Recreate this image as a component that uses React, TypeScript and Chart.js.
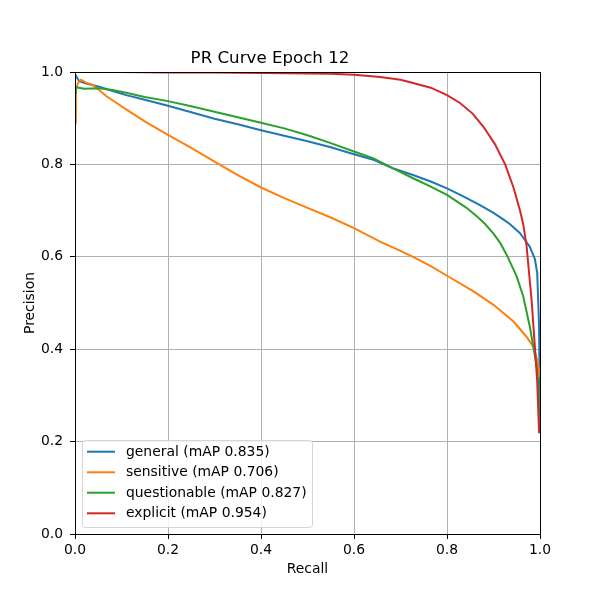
import React, { useEffect, useRef } from "react";
import { Chart, registerables } from "chart.js";

Chart.register(...registerables);

const chartTitle = "PR Curve Epoch 12";
const xAxisTitle = "Recall";
const yAxisTitle = "Precision";
const tickValues = [0, 0.2, 0.4, 0.6, 0.8, 1.0];

const seriesLabels = [
  "general (mAP 0.835)",
  "sensitive (mAP 0.706)",
  "questionable (mAP 0.827)",
  "explicit (mAP 0.954)",
];
const seriesColors = ["#1f77b4", "#ff7f0e", "#2ca02c", "#d62728"];

const generalRecall = [0, 0.003, 0.009, 0.024, 0.052, 0.081, 0.11, 0.15, 0.2, 0.25, 0.3, 0.35, 0.4, 0.45, 0.5, 0.55, 0.6, 0.642, 0.685, 0.727, 0.765, 0.8, 0.835, 0.871, 0.9, 0.921, 0.935, 0.957, 0.978, 0.989, 0.994, 0.998, 1.0];
const generalPrecision = [0.995, 0.99, 0.98, 0.975, 0.968, 0.959, 0.95, 0.94, 0.927, 0.913, 0.899, 0.887, 0.874, 0.862, 0.85, 0.837, 0.822, 0.81, 0.791, 0.777, 0.763, 0.748, 0.731, 0.712, 0.695, 0.681, 0.671, 0.651, 0.622, 0.595, 0.565, 0.45, 0.22];

const sensitiveRecall = [0, 0.002, 0.006, 0.013, 0.024, 0.038, 0.052, 0.067, 0.088, 0.11, 0.15, 0.2, 0.25, 0.3, 0.35, 0.4, 0.45, 0.5, 0.55, 0.6, 0.656, 0.7, 0.727, 0.765, 0.8, 0.857, 0.9, 0.943, 0.971, 0.986, 0.993, 0.998, 1.0];
const sensitivePrecision = [0.89, 0.96, 0.975, 0.983, 0.977, 0.972, 0.961, 0.948, 0.934, 0.919, 0.893, 0.864, 0.836, 0.806, 0.777, 0.75, 0.727, 0.706, 0.685, 0.662, 0.633, 0.613, 0.6, 0.58, 0.559, 0.525, 0.496, 0.46, 0.427, 0.405, 0.38, 0.355, 0.34];

const questionableRecall = [0, 0.002, 0.02, 0.052, 0.081, 0.11, 0.15, 0.2, 0.25, 0.3, 0.35, 0.4, 0.45, 0.5, 0.55, 0.6, 0.642, 0.685, 0.727, 0.765, 0.8, 0.842, 0.864, 0.882, 0.9, 0.915, 0.929, 0.95, 0.964, 0.978, 0.987, 0.994, 0.998, 1.0];
const questionablePrecision = [0.955, 0.967, 0.964, 0.965, 0.961, 0.955, 0.946, 0.937, 0.926, 0.914, 0.902, 0.89, 0.878, 0.863, 0.846, 0.828, 0.813, 0.791, 0.77, 0.752, 0.734, 0.706, 0.688, 0.671, 0.65, 0.629, 0.603, 0.557, 0.514, 0.449, 0.398, 0.355, 0.3, 0.25];

const explicitRecall = [0, 0.1, 0.2, 0.3, 0.4, 0.5, 0.55, 0.6, 0.656, 0.7, 0.727, 0.765, 0.8, 0.828, 0.855, 0.878, 0.903, 0.925, 0.943, 0.957, 0.964, 0.971, 0.982, 0.989, 0.994, 0.998, 1.0];
const explicitPrecision = [1.0, 1.0, 0.999, 0.999, 0.998, 0.997, 0.996, 0.994, 0.989, 0.983, 0.976, 0.966, 0.95, 0.933, 0.91, 0.882, 0.844, 0.8, 0.75, 0.7, 0.67, 0.625, 0.505, 0.405, 0.33, 0.22, 0.22];

const recallSets = [generalRecall, sensitiveRecall, questionableRecall, explicitRecall];
const precisionSets = [generalPrecision, sensitivePrecision, questionablePrecision, explicitPrecision];

const FONT = "'DejaVu Sans', sans-serif";
const TICK_PX = 13.9;

const framePlugin = {
  id: "frameAndLegend",
  afterDatasetsDraw(chart: any) {
    const { ctx, chartArea } = chart;
    const { left, top, right, bottom } = chartArea;
    ctx.save();
    ctx.strokeStyle = "#000";
    ctx.lineWidth = 1;
    const l = Math.floor(left) + 0.5, t = Math.floor(top) + 0.5;
    const r0 = Math.floor(right) + 0.5, b0 = Math.floor(bottom) + 0.5;
    ctx.strokeRect(l, t, r0 - l, b0 - t);

    // legend box (lower left, inside axes)
    const bx = 82.5, by = 440.5, bw = 230, bh = 87, r = 3;
    ctx.beginPath();
    ctx.moveTo(bx + r, by);
    ctx.lineTo(bx + bw - r, by);
    ctx.arcTo(bx + bw, by, bx + bw, by + r, r);
    ctx.lineTo(bx + bw, by + bh - r);
    ctx.arcTo(bx + bw, by + bh, bx + bw - r, by + bh, r);
    ctx.lineTo(bx + r, by + bh);
    ctx.arcTo(bx, by + bh, bx, by + bh - r, r);
    ctx.lineTo(bx, by + r);
    ctx.arcTo(bx, by, bx + r, by, r);
    ctx.closePath();
    ctx.fillStyle = "rgba(255,255,255,0.8)";
    ctx.fill();
    ctx.strokeStyle = "rgba(204,204,204,0.8)";
    ctx.lineWidth = 1;
    ctx.stroke();

    const rows = [451.7, 472.3, 492.7, 513.3];
    chart.data.datasets.forEach((ds: any, i: number) => {
      const y = rows[i];
      ctx.beginPath();
      ctx.strokeStyle = ds.borderColor;
      ctx.lineWidth = 2;
      ctx.moveTo(87, y);
      ctx.lineTo(115, y);
      ctx.stroke();
      ctx.fillStyle = "#000";
      ctx.font = `${TICK_PX}px ${FONT}`;
      ctx.textBaseline = "middle";
      ctx.textAlign = "left";
      ctx.fillText(ds.label, 126, y + 0.5);
    });
    ctx.restore();
  },
};

export default function App() {
  const canvasRef = useRef<HTMLCanvasElement | null>(null);

  useEffect(() => {
    if (!canvasRef.current) return;
    Chart.defaults.color = "#000";
    const datasets = seriesLabels.map((label, i) => ({
      label,
      data: recallSets[i].map((x, j) => ({ x, y: precisionSets[i][j] })),
      borderColor: seriesColors[i],
      backgroundColor: seriesColors[i],
      borderWidth: 2,
      pointRadius: 0,
      tension: 0,
      fill: false,
      clip: 0,
      order: seriesLabels.length - 1 - i,
    }));

    const chart = new Chart(canvasRef.current, {
      type: "line",
      data: { datasets },
      options: {
        animation: false,
        responsive: false,
        devicePixelRatio: 1,
        layout: { padding: { top: 0, left: 0, right: 60, bottom: 0 } },
        plugins: {
          legend: { display: false },
          tooltip: { enabled: false },
          title: {
            display: true,
            text: chartTitle,
            color: "#000",
            font: { family: FONT, size: 16.67, weight: "normal" },
            padding: { top: 48.5, bottom: 3.5 },
          },
        },
        scales: {
          x: {
            type: "linear",
            min: 0,
            max: 1,
            afterFit: (s: any) => { s.height = 66; },
            afterBuildTicks: (s: any) => { s.ticks = tickValues.map((v) => ({ value: v })); },
            ticks: {
              color: "#000",
              padding: 3,
              maxRotation: 0,
              font: { family: FONT, size: TICK_PX },
              callback: (v: any) => Number(v).toFixed(1),
            },
            grid: { color: "#b0b0b0", lineWidth: 1, tickLength: 5, tickColor: "#000", tickWidth: 1 },
            border: { display: false },
            title: {
              display: true,
              text: xAxisTitle,
              color: "#000",
              font: { family: FONT, size: TICK_PX },
              padding: { top: 0, bottom: 22 },
            },
          },
          y: {
            type: "linear",
            min: 0,
            max: 1,
            afterFit: (s: any) => { s.width = 75; },
            afterBuildTicks: (s: any) => { s.ticks = tickValues.map((v) => ({ value: v })); },
            ticks: {
              color: "#000",
              padding: 7,
              font: { family: FONT, size: TICK_PX },
              callback: (v: any) => Number(v).toFixed(1),
            },
            grid: { color: "#b0b0b0", lineWidth: 1, tickLength: 5, tickColor: "#000", tickWidth: 1 },
            border: { display: false },
            title: {
              display: true,
              text: yAxisTitle,
              color: "#000",
              font: { family: FONT, size: TICK_PX },
              padding: { top: 22, bottom: 0 },
            },
          },
        },
      } as any,
      plugins: [framePlugin],
    });
    return () => chart.destroy();
  }, []);

  return (
    <div style={{ position: "fixed", left: 0, top: 0, width: 600, height: 600, background: "#fff" }}>
      <canvas ref={canvasRef} width={600} height={600} style={{ display: "block", width: 600, height: 600 }} />
    </div>
  );
}
